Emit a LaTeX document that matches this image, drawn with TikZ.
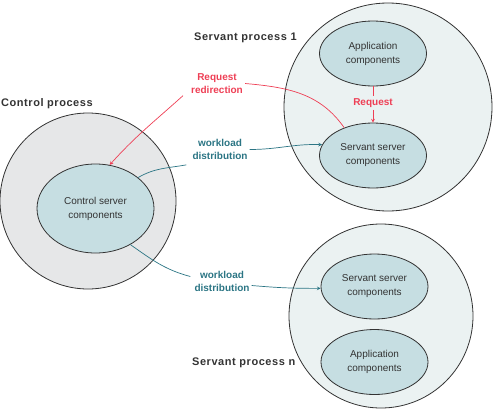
\documentclass[tikz,border=0pt]{standalone}
\usepackage{fontspec}
\setmainfont{Liberation Sans}
\newfontfamily\titlefont[LetterSpace=5]{Liberation Sans}
\usepackage{xcolor}
\usetikzlibrary{positioning, shapes.geometric}

\definecolor{ctrlgray}{HTML}{E6E7E8}
\definecolor{servfill}{HTML}{EBF2F2}
\definecolor{compfill}{HTML}{C6DEE2}
\definecolor{redirred}{HTML}{EE3F55}
\definecolor{wlteal}{HTML}{2B7584}
\definecolor{textgray}{HTML}{333333}

\begin{document}
\begin{tikzpicture}[
    x=1pt, y=-1pt,
    every node/.style={font=\fontsize{10}{14}\selectfont},
    process/.style={
        circle,
        draw=textgray,
        line width=0.8pt,
        inner sep=0pt
    },
    comp/.style={
        ellipse,
        draw=textgray,
        line width=0.8pt,
        fill=compfill,
        minimum width=107pt,
        minimum height=65pt,
        inner sep=0pt,
        align=center,
        text=textgray
    },
    title/.style={
        anchor=west,
        inner sep=0pt,
        text=textgray,
        font=\titlefont\bfseries\fontsize{11}{13}\selectfont
    },
    redlabel/.style={
        align=center,
        inner sep=2pt,
        text=redirred,
        font=\bfseries\fontsize{10}{13}\selectfont
    },
    tlabel/.style={
        align=center,
        inner sep=2pt,
        text=wlteal,
        font=\bfseries\fontsize{10}{13}\selectfont
    },
    redline/.style={draw=redirred, line width=0.7pt, >=stealth},
    tealline/.style={draw=wlteal, line width=0.7pt, >=stealth}
]
\useasboundingbox (0,0) rectangle (493,410);

% Processus
\node[process, fill=ctrlgray, minimum size=176pt] (ctrlproc) at (88,201) {};
\node[process, fill=servfill, minimum size=208pt] (srvproc1) at (388,107) {};
\node[process, fill=servfill, minimum size=184pt] (srvprocn) at (381,316) {};

\node[title] (ctrltitle) at (1,104) {Control process};
\node[title] (srv1title) at (194,38) {Servant process 1};
\node[title] (srvntitle) at (192,363) {Servant process n};

% Composants
\node[comp, minimum width=117pt, minimum height=89pt] (ctrl) at (95.5,208.5) {Control server\\components};
\node[comp] (app1) at (373,53.5) {Application\\components};
\node[comp] (srv1) at (373,155.5) {Servant server\\components};
\node[comp] (srvn) at (374.5,286.5) {Servant server\\components};
\node[comp] (appn) at (374.5,362) {Application\\components};

% Etiquettes
\node[redlabel] (req) at (373,103) {Request};
\node[redlabel] (redir) at (217,83.5) {Request\\redirection};
\node[tlabel] (wl1) at (220,149.5) {workload\\distribution};
\node[tlabel] (wl2) at (222,281.5) {workload\\distribution};

% Fleches
\draw[redline] (app1) -- (req);
\draw[redline, ->] (req) -- (srv1);

\draw[redline] (srv1.136) to[out=125, in=-5] (redir.east);
\draw[redline, ->] ([xshift=-6pt]redir.south west) to[out=-138, in=48] (ctrl.72);

\draw[tealline] (ctrl.36) to[out=30, in=190] ([xshift=-4pt,yshift=-3pt]wl1.south west);
\draw[tealline, ->] (wl1.east) to[out=0, in=178] (srv1.168);

\draw[tealline] (ctrl.-46) to[out=-35, in=165] ([xshift=-2pt,yshift=5pt]wl2.west);
\draw[tealline, ->] ([yshift=-4pt]wl2.east) to[out=-5, in=180] (srvn.182);

\end{tikzpicture}
\end{document}
